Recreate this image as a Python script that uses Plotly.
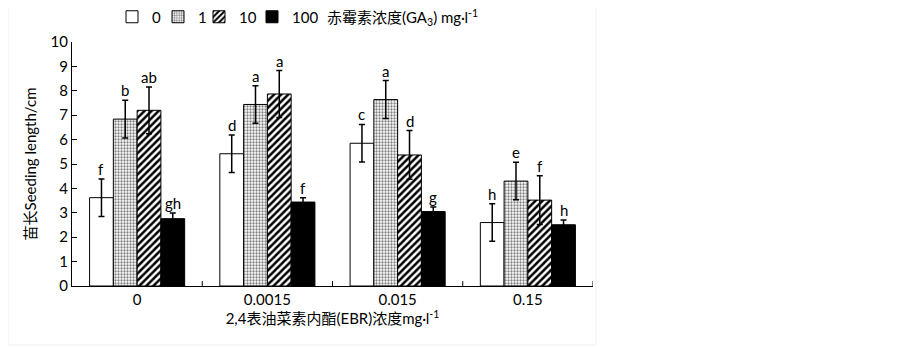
import plotly.graph_objects as go

categories = ["0", "0.0015", "0.015", "0.15"]
series_names = ["0", "1", "10", "100"]
means = {
    "0":   [3.62, 5.42, 5.85, 2.60],
    "1":   [6.84, 7.44, 7.64, 4.30],
    "10":  [7.20, 7.87, 5.37, 3.52],
    "100": [2.76, 3.44, 3.05, 2.51],
}
errors = {
    "0":   [0.77, 0.77, 0.77, 0.77],
    "1":   [0.77, 0.77, 0.78, 0.77],
    "10":  [0.96, 0.96, 1.00, 1.00],
    "100": [0.23, 0.18, 0.19, 0.19],
}
letters = {
    "0":   ["f", "d", "c", "h"],
    "1":   ["b", "a", "a", "e"],
    "10":  ["ab", "a", "d", "f"],
    "100": ["gh", "f", "g", "h"],
}
y_ticks = list(range(0, 11))

LAT = "Lato, 'Noto Sans CJK SC', sans-serif"

styles = {
    "0":   dict(color="white", pattern=None),
    "1":   dict(color="white", pattern=dict(shape=".", fgcolor="black", bgcolor="white", size=3, solidity=0.45)),
    "10":  dict(color="white", pattern=dict(shape="/", fgcolor="black", bgcolor="white", size=5, solidity=0.5, fgopacity=1)),
    "100": dict(color="black", pattern=None),
}

# plot area in window pixels: x 72..593, y 42..286 (page has 8px body margin)
PX0, PX1, PY0, PY1 = 72, 593, 42, 286
def px(X):
    return (X - PX0) / (PX1 - PX0)
def py(Y):
    return (PY1 - Y) / (PY1 - PY0)

legend_ids = ["legend", "legend2", "legend3", "legend4"]
legend_x = [112, 158, 199, 252]

fig = go.Figure()
for s, lid in zip(series_names, legend_ids):
    st = styles[s]
    marker = dict(color=st["color"], line=dict(color="black", width=1))
    if st["pattern"]:
        marker["pattern"] = st["pattern"]
    fig.add_trace(go.Bar(
        name=s, x=list(range(len(categories))), y=means[s],
        marker=marker, legend=lid,
        error_y=dict(type="data", array=errors[s], color="black", thickness=1.5, width=3),
    ))

bargap = 0.27
n = len(series_names)
gw = 1 - bargap
for k, s in enumerate(series_names):
    for i in range(len(categories)):
        xc = i - gw / 2 + (k + 0.5) * gw / n
        fig.add_annotation(x=xc, y=means[s][i] + errors[s][i], text=letters[s][i],
                           showarrow=False, yanchor="bottom", yshift=-1,
                           font=dict(family=LAT, size=15, color="black"))

# legend title text (right of legend)
fig.add_annotation(xref="paper", yref="paper", x=px(325), y=py(18),
                   xanchor="left", yanchor="middle", showarrow=False,
                   text="赤霉素浓度(GA<sub>3</sub>) mg·l<sup>-1</sup>",
                   font=dict(family=LAT, size=15, color="black"))

# faint frame
fig.add_shape(type="rect", xref="paper", yref="paper",
              x0=px(8), x1=px(596), y0=py(345), y1=py(3),
              line=dict(color="#eeeeee", width=1), layer="below")

legend_common = dict(orientation="h", y=py(17), xanchor="left", yanchor="middle",
                     font=dict(family=LAT, size=15), itemwidth=30,
                     bgcolor="rgba(0,0,0,0)")

fig.update_layout(
    width=903, height=348,
    margin=dict(l=PX0 - 8, r=903 - (PX1 - 8), t=PY0 - 8, b=348 - (PY1 - 8), autoexpand=False),
    plot_bgcolor="white", paper_bgcolor="white",
    barmode="group", bargap=bargap, bargroupgap=0,
    font=dict(family=LAT, size=15, color="black"),
    showlegend=True,
    xaxis=dict(
        tickmode="array", tickvals=list(range(len(categories))), ticktext=categories,
        range=[-0.5, len(categories) - 0.5],
        showline=True, linecolor="black", linewidth=1,
        ticks="", showgrid=False, zeroline=False,
        tickfont=dict(family=LAT, size=15),
        title=dict(text="2,4表油菜素内酯(EBR)浓度mg·l<sup>-1</sup>", font=dict(family=LAT, size=15), standoff=6),
    ),
    yaxis=dict(
        range=[0, 10], tickvals=y_ticks, showline=True, linecolor="black", linewidth=1,
        ticks="inside", ticklen=5, tickcolor="black", showgrid=False, zeroline=False,
        tickfont=dict(family=LAT, size=15),
        title=dict(text="苗长Seeding length/cm", font=dict(family=LAT, size=15), standoff=10),
    ),
)
for lid, lx in zip(legend_ids, legend_x):
    fig.update_layout({lid: dict(legend_common, x=px(lx))})

# category boundary ticks on x axis (pointing up)
for b in range(1, len(categories) + 1):
    fig.add_shape(type="line", xref="x", yref="y", x0=b - 0.5, x1=b - 0.5, y0=0, y1=0.2,
                  line=dict(color="black", width=1))

fig.write_html("out.html")
